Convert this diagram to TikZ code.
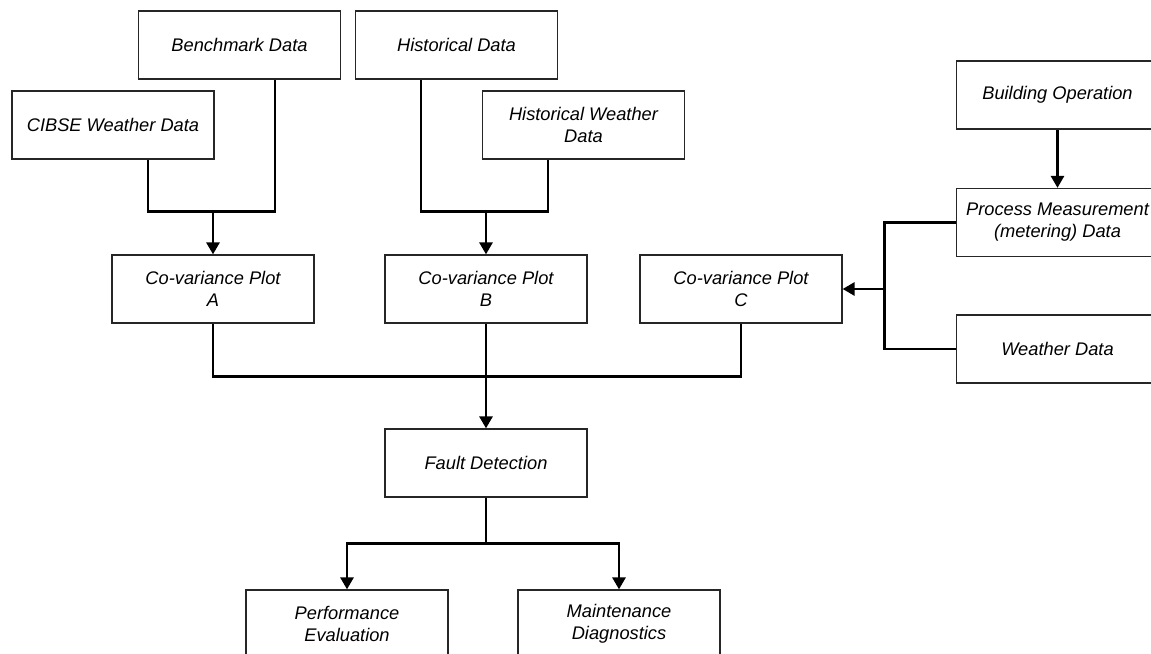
\documentclass[tikz,border=0pt]{standalone}
\usepackage{fontspec}
\setmainfont{Liberation Sans}
\usepackage{tikz}
\usetikzlibrary{calc,positioning,arrows.meta}

\begin{document}
\begin{tikzpicture}[
    box/.style={draw=black!85, line width=0.7pt, minimum width=4.04cm, minimum height=1.36cm,
        inner sep=0pt, align=center, font=\fontsize{10.4}{12.4}\selectfont\itshape},
    link/.style={line width=1.6pt},
    flow/.style={line width=1.6pt, -{Triangle[length=0.24cm,width=0.26cm]}}
]
\useasboundingbox (0,0) rectangle (23.02,13.08);

% Data sources
\node[box] (bench) at (4.79,12.18) {Benchmark Data};
\node[box] (cibse) at (2.26,10.58) {CIBSE Weather Data};
\node[box] (hist)  at (9.13,12.18) {Historical Data};
\node[box] (histw) at (11.67,10.58) {Historical Weather\\Data};
\node[box] (bldg)  at (21.15,11.18) {Building Operation};
\node[box] (proc)  at (21.15,8.63) {Process Measurement\\(metering) Data};
\node[box] (weath) at (21.15,6.10) {Weather Data};

% Co-variance plots
\node[box] (plotA) at (4.26,7.30) {Co-variance Plot\\A};
\node[box] (plotB) at (9.72,7.30) {Co-variance Plot\\B};
\node[box] (plotC) at (14.82,7.30) {Co-variance Plot\\C};

% Detection and outcomes
\node[box] (fault) at (9.72,3.82) {Fault Detection};
\node[box] (perf)  at (6.94,0.60) {Performance\\Evaluation};
\node[box] (maint) at (12.38,0.60) {Maintenance\\Diagnostics};

% Junction points
\coordinate (jA) at ($(plotA.north)+(0,0.86)$);
\coordinate (jB) at ($(plotB.north)+(0,0.86)$);
\coordinate (jC) at ($(plotC.east)+(0.84,0)$);
\coordinate (jF) at ($(fault.north)+(0,1.04)$);
\coordinate (jD) at ($(fault.south)+(0,-0.92)$);

% Plot A inputs
\draw[link] ([xshift=0.7cm]cibse.south) |- (jA) -| ([xshift=0.71cm]bench.south);
\draw[flow] (jA) -- (plotA.north);

% Plot B inputs
\draw[link] ([xshift=-0.71cm]hist.south) |- (jB) -| ([xshift=-0.71cm]histw.south);
\draw[flow] (jB) -- (plotB.north);

% Plot C inputs
\draw[flow] (bldg.south) -- (proc.north);
\draw[link] (proc.west) -| (jC) |- (weath.west);
\draw[flow] (jC) -- (plotC.east);

% Plots to fault detection
\draw[link] (plotA.south) |- (jF) -| (plotC.south);
\draw[link] (plotB.south) -- (jF);
\draw[flow] (jF) -- (fault.north);

% Fault detection to outcomes
\draw[link] (fault.south) -- (jD);
\draw[flow] (jD) -| (perf.north);
\draw[flow] (jD) -| (maint.north);
\end{tikzpicture}
\end{document}
